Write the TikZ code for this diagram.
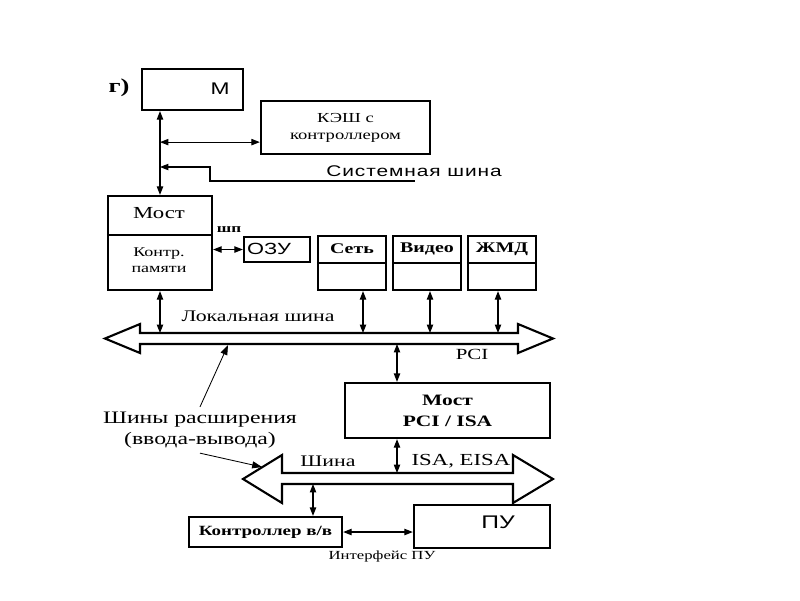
\documentclass[tikz,border=0pt]{standalone}
\usepackage{fontspec}
\setmainfont{Liberation Serif}[FakeStretch=1.35]
\newfontfamily\sansw{Liberation Sans}[FakeStretch=1.35]
\newfontfamily\sanswide{Liberation Sans}[FakeStretch=1.35, LetterSpace=6]
\usetikzlibrary{arrows.meta,calc}

\tikzset{
  box/.style={draw, line width=1.6pt, inner sep=0pt},
  link/.style={line width=0.8pt, {Triangle[length=6pt,width=4.5pt]}-{Triangle[length=6pt,width=4.5pt]}},
  pointer/.style={line width=0.6pt, -{Triangle[length=7pt,width=5pt]}},
  bus/.style={draw, line width=1.5pt, fill=white, line join=miter},
}

\begin{document}
\begin{tikzpicture}[x=0.025cm, y=-0.025cm]
        \fill[white] (0,0) rectangle (800,600);
        \useasboundingbox (0,0) rectangle (800,600);

        % processor side
        \node[font=\bfseries\fontsize{14}{16}\selectfont] (gmark) at (119,88) {г)};
        \node[box, minimum width=2.525cm, minimum height=1.025cm] (mem) at (192.5,89.5) {};
        \node[font=\sansw\fontsize{12}{14}\selectfont] (memtxt) at (220,89) {М};
        \node[box, minimum width=4.225cm, minimum height=1.325cm, align=center,
              font=\fontsize{9.8}{12}\selectfont] (cache) at (345.5,127.5) {КЭШ с\\контроллером};

        \node[box, minimum width=2.6cm, minimum height=2.35cm] (most) at (160,243) {};
        \draw[line width=1.6pt] (most.west |- 0,235) -- (most.east |- 0,235);
        \node[font=\fontsize{12}{14}\selectfont] (mosttxt) at (159,213) {Мост};
        \node[align=center, font=\fontsize{9.5}{11.5}\selectfont] (kontr) at (159,260) {Контр.\\памяти};

        \coordinate (cachein) at ($(cache.south west)+(0,-13)$);
        \draw[link] (mem.south -| most.north) -- (most.north);
        \draw[link] (most.north |- cachein) -- (cachein);

        % system bus
        \coordinate (sysend) at (415,181);
        \draw[line width=0.8pt, {Triangle[length=6pt,width=4.5pt]}-] (most.north |- 0,167) -- (210,167) -- (210,181) -- (sysend);
        \node[font=\sanswide\fontsize{11}{13}\selectfont] (systxt) at (414,171) {Системная шина};

        % memory and devices
        \node[font=\bfseries\fontsize{9}{10}\selectfont] (shp) at (229,230) {шп};
        \node[box, minimum width=1.65cm, minimum height=0.625cm] (ozu) at (277,249.5) {};
        \node[font=\sansw\fontsize{11.5}{13}\selectfont] (ozutxt) at (269,249) {ОЗУ};
        \draw[link] (most.east |- ozu.west) -- (ozu.west);

        \foreach \n/\t/\x in {set/Сеть/352, video/Видео/427, zhmd/ЖМД/502} {
          \node[box, minimum width=1.7cm, minimum height=1.35cm] (\n) at (\x,263) {};
          \draw[line width=1.6pt] (\n.west) -- (\n.east);
          \node[font=\bfseries\fontsize{10.5}{12}\selectfont] (\n txt) at (\x,249) {\t};
        }

        % local bus PCI
        \draw[bus] (105,338.5) -- (140,324) -- (140,333) -- (518,333) -- (518,324) -- (553,338.5)
              -- (518,353) -- (518,344) -- (140,344) -- (140,353) -- cycle;
        \coordinate (lbtop) at (0,333);
        \coordinate (lbbot) at (0,344);
        \node[font=\fontsize{11.5}{13}\selectfont] (lbtxt) at (258,316) {Локальная шина};
        \node[font=\fontsize{11}{13}\selectfont] (pcitxt) at (472,354) {PCI};

        \draw[link] (most.south) -- (most.south |- lbtop);
        \draw[link] (363,0 |- set.south) -- (363,0 |- lbtop);
        \draw[link] (430,0 |- video.south) -- (430,0 |- lbtop);
        \draw[link] (498,0 |- zhmd.south) -- (498,0 |- lbtop);

        % bridge PCI/ISA
        \node[box, minimum width=5.125cm, minimum height=1.375cm, align=center,
              font=\bfseries\fontsize{11.3}{15}\selectfont] (bridge) at (447.5,410.5) {Мост\\PCI / ISA};
        \draw[link] (397,0 |- lbbot) -- (397,0 |- bridge.north);

        % ISA bus
        \draw[bus] (243,479) -- (282,455) -- (282,473) -- (513,473) -- (513,455) -- (553,479)
              -- (513,503) -- (513,484) -- (282,484) -- (282,503) -- cycle;
        \coordinate (isatop) at (0,473);
        \coordinate (isabot) at (0,484);
        \node[font=\fontsize{11.5}{13}\selectfont] (isatxt1) at (328,461) {Шина};
        \node[font=\fontsize{12}{14}\selectfont] (isatxt2) at (461,461) {ISA, EISA};
        \draw[link] (397,0 |- bridge.south) -- (397,0 |- isatop);

        % expansion buses label
        \node[align=center, font=\fontsize{12.5}{15}\selectfont] (ext) at (200,430) {Шины расширения\\(ввода-вывода)};
        \coordinate (lbptr) at (228,345);
        \coordinate (isaptr) at (262,467);
        \draw[pointer] (ext.north) -- (lbptr);
        \draw[pointer] (ext.south) -- (isaptr);

        % peripheral
        \node[box, minimum width=3.825cm, minimum height=0.75cm,
              font=\bfseries\fontsize{10}{12}\selectfont] (ctrl) at (265.5,532) {Контроллер в/в};
        \node[box, minimum width=3.4cm, minimum height=1.075cm] (pu) at (482,526.5) {};
        \node[font=\sansw\fontsize{13}{15}\selectfont] (putxt) at (498,522) {ПУ};
        \draw[link] (313,0 |- isabot) -- (313,0 |- ctrl.north);
        \draw[link] (ctrl.east) -- (pu.west |- ctrl.east);
        \node[font=\fontsize{8.8}{10}\selectfont] (iftxt) at (382,557) {Интерфейс ПУ};
    \end{tikzpicture}
\end{document}
